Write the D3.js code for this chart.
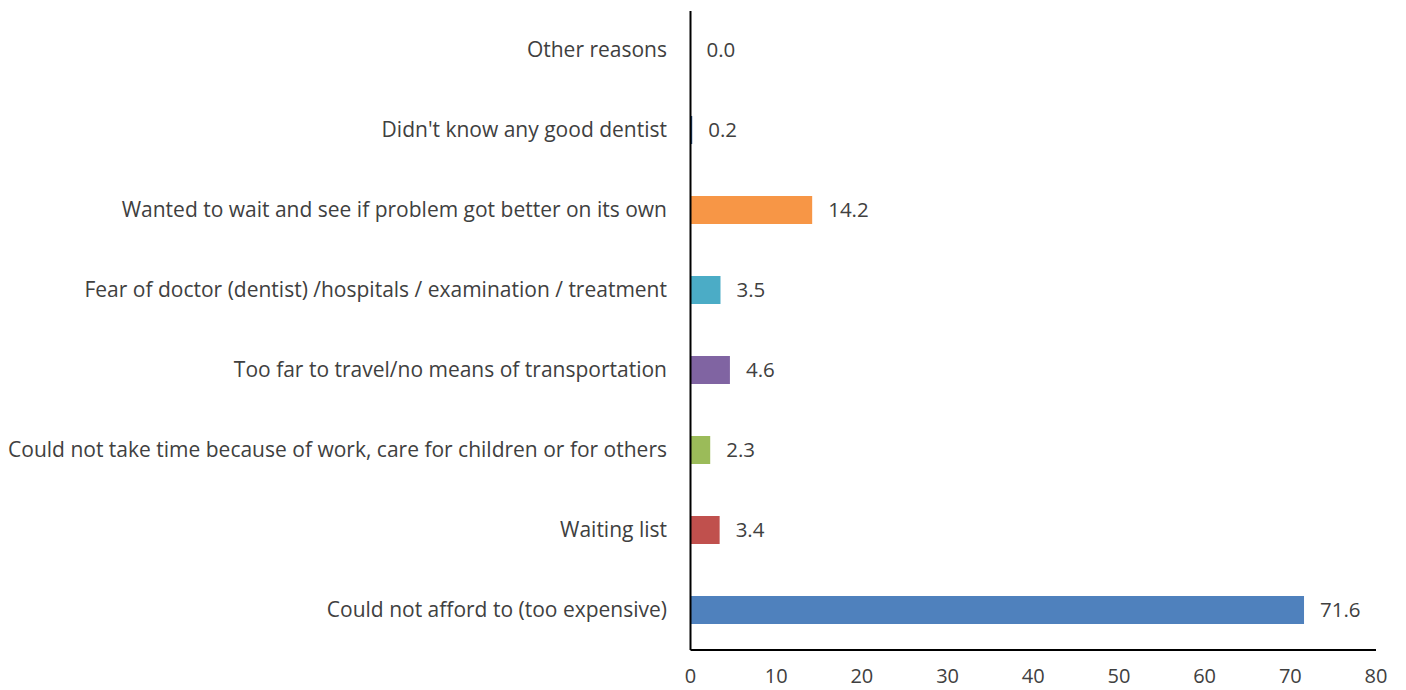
<!DOCTYPE html>
<html>
<head>
<meta charset="utf-8">
<script src="https://d3js.org/d3.v7.min.js"></script>
<style>
  body { margin: 0; background: #fff; }
  text { font-family: "Open Sans", sans-serif; fill: #404040; }
</style>
</head>
<body>
<div id="chart"></div>
<script>
// categories top to bottom
var categories = [
  "Other reasons",
  "Didn't know any good dentist ",
  "Wanted to wait and see if problem got better on its own",
  "Fear of doctor (dentist) /hospitals / examination / treatment",
  "Too far to travel/no means of transportation",
  "Could not take time because of work, care for children or for others",
  "Waiting list",
  "Could not afford to (too expensive)"
];
var values = [0.0, 0.2, 14.2, 3.5, 4.6, 2.3, 3.4, 71.6];
var colors = ["#4F81BD", "#1F497D", "#F79646", "#4BACC6", "#8064A2", "#9BBB59", "#C0504D", "#4F81BD"];
var xTicks = [0, 10, 20, 30, 40, 50, 60, 70, 80];

var W = 1406, H = 690;
var margin = {top: 10, left: 690.5, right: 30, bottom: 40};

var svg = d3.select("#chart").append("svg")
  .attr("width", W).attr("height", H);

var x = d3.scaleLinear().domain([0, 80]).range([margin.left, 1376]);
var y = d3.scaleBand().domain(categories).range([margin.top, 650]).paddingInner(0.65).paddingOuter(0.325);

// bars
svg.append("g").selectAll("rect")
  .data(categories)
  .enter().append("rect")
    .attr("x", x(0))
    .attr("y", function(d) { return y(d); })
    .attr("width", function(d, i) { return x(values[i]) - x(0); })
    .attr("height", y.bandwidth())
    .attr("fill", function(d, i) { return colors[i]; });

// value labels
svg.append("g").selectAll("text")
  .data(categories)
  .enter().append("text")
    .attr("x", function(d, i) { return x(values[i]) + 16; })
    .attr("y", function(d) { return y(d) + y.bandwidth() / 2; })
    .attr("dy", "0.35em")
    .style("font-size", "20.5px")
    .text(function(d, i) { return values[i].toFixed(1); });

// category labels
svg.append("g").selectAll("text")
  .data(categories)
  .enter().append("text")
    .attr("x", 667)
    .attr("y", function(d) { return y(d) + y.bandwidth() / 2; })
    .attr("dy", "0.35em")
    .attr("text-anchor", "end")
    .style("font-size", "21px")
    .text(function(d) { return d; });

// axes lines
svg.append("line")
  .attr("x1", x(0)).attr("x2", x(0)).attr("y1", 11).attr("y2", 650)
  .attr("stroke", "#000").attr("stroke-width", 2);
svg.append("line")
  .attr("x1", x(0)).attr("x2", x(80)).attr("y1", 650).attr("y2", 650)
  .attr("stroke", "#000").attr("stroke-width", 2);

// x tick labels
svg.append("g").selectAll("text")
  .data(xTicks)
  .enter().append("text")
    .attr("x", function(d) { return x(d); })
    .attr("y", 683)
    .attr("text-anchor", "middle")
    .style("font-size", "20px")
    .text(function(d) { return d; });
</script>
</body>
</html>
